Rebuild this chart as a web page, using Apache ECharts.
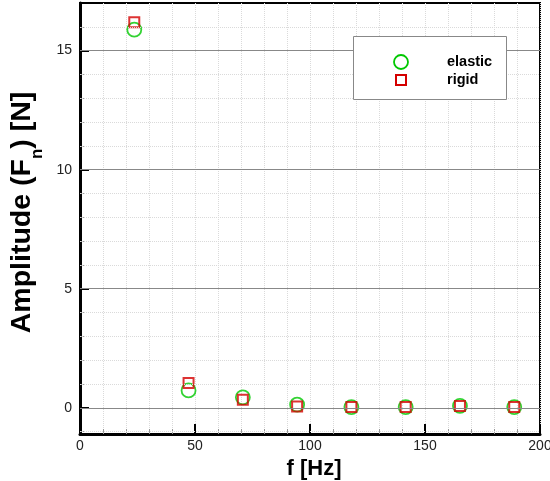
<!DOCTYPE html>
<html><head><meta charset="utf-8">
<script src="https://cdn.jsdelivr.net/npm/echarts@6/dist/echarts.min.js"></script>
<style>html,body{margin:0;padding:0;background:#fff}#c{width:550px;height:481px}</style>
</head><body><div id="c"></div>
<script>
const freq = [23.6, 47.2, 70.8, 94.4, 118.0, 141.6, 165.2, 188.8];
const elastic = [15.88, 0.73, 0.44, 0.13, 0.03, 0.03, 0.08, 0.03];
const rigid = [16.19, 1.04, 0.34, 0.06, 0.03, 0.03, 0.08, 0.03];
const xTicks = [0, 50, 100, 150, 200];
const yTicks = [0, 5, 10, 15];
const yMinor = [-1, 1, 2, 3, 4, 6, 7, 8, 9, 11, 12, 13, 14, 16];
const seriesNames = ['elastic', 'rigid'];

const GREEN = '#00c800', RED = '#d40000';
const chart = echarts.init(document.getElementById('c'), null, {renderer: 'canvas'});
const font = 'Liberation Sans, Arial, sans-serif';
const pair = (xs, ys) => xs.map((x, i) => [x, ys[i]]);
const yBase = {type: 'value', min: -1.1, max: 17, position: 'left', offset: 0};
chart.setOption({
  animation: false,
  backgroundColor: '#fff',
  grid: {left: 80, right: 10, top: 3, bottom: 47, show: true, borderColor: '#000', borderWidth: 2,
    outerBoundsMode: 'none', containLabel: false},
  xAxis: {
    type: 'value', min: 0, max: 200, interval: 50,
    name: 'f [Hz]', nameLocation: 'middle', nameGap: 13,
    nameTextStyle: {fontFamily: font, fontSize: 22, fontWeight: 'bold', color: '#000', verticalAlign: 'top', padding: [0, 0, 0, 8]},
    axisLine: {show: true, onZero: false, lineStyle: {color: '#000', width: 3}},
    axisTick: {show: true, inside: true, length: 10, lineStyle: {color: '#000', width: 2}},
    minorTick: {show: true, splitNumber: 5, length: 5, lineStyle: {color: '#999', width: 1}},
    axisLabel: {fontFamily: font, fontSize: 14, color: '#222', margin: 5},
    splitLine: {show: true, lineStyle: {color: '#dadada', type: 'dotted', width: 1}},
    minorSplitLine: {show: true, lineStyle: {color: '#dadada', type: 'dotted', width: 1}}
  },
  yAxis: [
    Object.assign({}, yBase, {
      axisLabel: {fontFamily: font, fontSize: 14, color: '#222', margin: 8, customValues: yTicks},
      axisTick: {show: true, inside: true, length: 9, customValues: yTicks, lineStyle: {color: '#000', width: 2}},
      name: 'Amplitude (F{s|n}) [N]', nameLocation: 'middle', nameGap: 35,
      nameTextStyle: {fontFamily: font, fontSize: 28.5, fontWeight: 'bold', color: '#000', padding: [0, 0, 0, 12],
        rich: {s: {fontFamily: font, fontSize: 17, fontWeight: 'bold', color: '#000', verticalAlign: 'bottom', padding: [0, 0, -9, 0]}}},
      axisLine: {show: true, lineStyle: {color: '#000', width: 3}},
      splitLine: {show: false}
    }),
    Object.assign({}, yBase, {
      axisLabel: {show: false},
      axisTick: {show: true, inside: true, length: 4, customValues: yMinor, lineStyle: {color: '#999', width: 1}},
      axisLine: {show: false},
      splitLine: {show: false}
    })
  ],
  graphic: [
    {type: 'rect', z: 100, shape: {x: 353.5, y: 36.5, width: 153, height: 63},
      style: {fill: '#fff', stroke: '#888', lineWidth: 1}},
    {type: 'circle', z: 101, shape: {cx: 401, cy: 62, r: 7},
      style: {fill: 'none', stroke: GREEN, lineWidth: 1.8}},
    {type: 'rect', z: 101, shape: {x: 396, y: 75, width: 10, height: 10},
      style: {fill: 'none', stroke: RED, lineWidth: 2}},
    {type: 'text', z: 101, x: 447, y: 62, style: {text: seriesNames[0], font: 'bold 14.5px ' + font, fill: '#000', verticalAlign: 'middle'}},
    {type: 'text', z: 101, x: 447, y: 80, style: {text: seriesNames[1], font: 'bold 14.5px ' + font, fill: '#000', verticalAlign: 'middle'}}
  ],
  series: [
    {name: seriesNames[0], type: 'scatter', data: pair(freq, elastic), symbol: 'circle', symbolSize: 14,
      itemStyle: {color: 'rgba(255,255,255,0)', borderColor: GREEN, borderWidth: 1.8}, z: 3},
    {name: seriesNames[1], type: 'scatter', data: pair(freq, rigid), symbol: 'rect', symbolSize: 10,
      itemStyle: {color: 'rgba(255,255,255,0)', borderColor: RED, borderWidth: 2}, z: 4},
    {name: 'grid', type: 'line', data: [], silent: true,
      markLine: {silent: true, symbol: 'none', label: {show: false}, animation: false,
        data: yTicks.map(v => ({yAxis: v, lineStyle: {color: '#888', type: 'solid', width: 1}}))
          .concat(yMinor.map(v => ({yAxis: v, lineStyle: {color: '#dadada', type: 'dotted', width: 1}})))}}
  ]
});
</script></body></html>
